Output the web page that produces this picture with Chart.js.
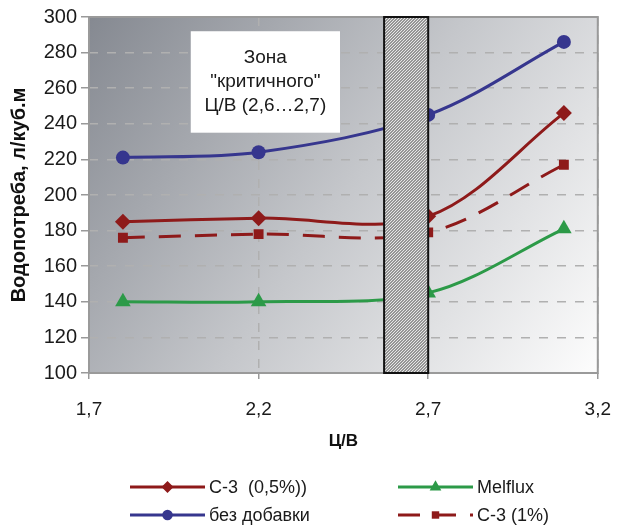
<!DOCTYPE html>
<html lang="ru">
<head>
<meta charset="utf-8">
<title>Водопотреба</title>
<script src="https://cdn.jsdelivr.net/npm/chart.js@4.4.1/dist/chart.umd.min.js"></script>
<style>
  html, body { margin: 0; padding: 0; background: #fff; }
  #wrap { width: 630px; height: 525px; position: relative; }
</style>
</head>
<body>
<div id="wrap"><canvas id="chart"></canvas></div>
<script>
// Ц/В по оси X
const cvRatio = [1.8, 2.2, 2.7, 3.1];

// водопотреба, л/куб.м
const s3Half = [185, 187, 188, 246];
const melflux = [140, 140, 145, 181];
const bezDobavki = [221, 224, 245, 286];
const s3One = [176, 178, 179, 217];

const xTicks = [1.7, 2.2, 2.7, 3.2];
const criticalZone = [2.57, 2.7];
const zoneText = ['Зона', '"критичного"', 'Ц/В (2,6…2,7)'];

const FONT = '"Liberation Sans", Arial, sans-serif';
const fmt = v => String(v.toFixed(1)).replace('.', ',');
const toPoints = ys => cvRatio.map((x, i) => ({ x: x, y: ys[i] }));

// серый градиент под графиком
const plotBackground = {
    id: 'plotBackground',
    beforeDraw(chart) {
        const { ctx, chartArea: a } = chart;
        const g = ctx.createLinearGradient(a.left, a.top, a.right, a.bottom);
        g.addColorStop(0, '#858991');
        g.addColorStop(0.5, '#c5c7cb');
        g.addColorStop(1, '#fdfdfd');
        ctx.save();
        ctx.fillStyle = g;
        ctx.fillRect(a.left, a.top, a.width, a.height);
        ctx.restore();
    }
};

function hatchPattern(ctx) {
    const c = document.createElement('canvas');
    c.width = 3; c.height = 3;
    const p = c.getContext('2d');
    p.fillStyle = '#959595';
    p.fillRect(0, 0, 3, 3);
    p.fillStyle = '#e6e6e6';
    p.fillRect(0, 2, 1, 1); p.fillRect(1, 1, 1, 1); p.fillRect(2, 0, 1, 1);
    return ctx.createPattern(c, 'repeat');
}

// рамка, заштрихованная зона и подпись
const zonePlugin = {
    id: 'zonePlugin',
    afterDatasetsDraw(chart, args, opts) {
        const { ctx, chartArea: a, scales: { x, y } } = chart;
        ctx.save();
        ctx.strokeStyle = '#9a9a9a';
        ctx.lineWidth = 2;
        ctx.strokeRect(a.left, a.top, a.width, a.height);

        const x1 = x.getPixelForValue(criticalZone[0]);
        const x2 = x.getPixelForValue(criticalZone[1]);
        ctx.fillStyle = hatchPattern(ctx);
        ctx.fillRect(x1, a.top, x2 - x1, a.height);
        ctx.strokeStyle = '#111';
        ctx.lineWidth = 2;
        ctx.strokeRect(x1, a.top, x2 - x1, a.height);

        const b = opts.box;
        const bx1 = x.getPixelForValue(b.x[0]), bx2 = x.getPixelForValue(b.x[1]);
        const by1 = y.getPixelForValue(b.y[1]), by2 = y.getPixelForValue(b.y[0]);
        ctx.fillStyle = '#fff';
        ctx.fillRect(bx1, by1, bx2 - bx1, by2 - by1);
        ctx.fillStyle = '#1a1a1a';
        ctx.font = '19px ' + FONT;
        ctx.textAlign = 'center';
        ctx.textBaseline = 'middle';
        const cx = (bx1 + bx2) / 2, cy = (by1 + by2) / 2;
        zoneText.forEach((t, i) => ctx.fillText(t, cx, cy + (i - 1) * 24));
        ctx.restore();
    }
};

// легенда в две колонки: линия с маркером посередине
const lineLegend = {
    id: 'lineLegend',
    afterDraw(chart, args, opts) {
        const ctx = chart.ctx;
        ctx.save();
        ctx.font = '18px ' + FONT;
        ctx.textBaseline = 'middle';
        ctx.textAlign = 'left';
        chart.data.datasets.forEach((ds, i) => {
            const x = opts.cols[i % 2], y = opts.rows[Math.floor(i / 2)];
            const len = opts.lineLength;
            ctx.strokeStyle = ds.borderColor;
            ctx.lineWidth = 3;
            ctx.setLineDash(ds.borderDash || []);
            ctx.beginPath();
            ctx.moveTo(x, y);
            ctx.lineTo(x + len, y);
            ctx.stroke();
            ctx.setLineDash([]);
            ctx.fillStyle = ds.backgroundColor;
            Chart.helpers.drawPoint(ctx, {
                pointStyle: ds.pointStyle,
                radius: ds.pointRadius * 0.75,
                rotation: 0,
                borderWidth: 0
            }, x + len / 2, y);
            ctx.fillStyle = '#1a1a1a';
            ctx.fillText(ds.label, x + len + 4, y + 1);
        });
        ctx.restore();
    }
};

const red = '#8e1a1a';
const blue = '#36368e';
const green = '#2c9a48';

// пунктирная сетка
const gridDash = { display: true, width: 0, color: 'rgba(0,0,0,0)', dash: [9, 9] };

new Chart(document.getElementById('chart'), {
    type: 'line',
    data: {
        datasets: [
            {
                label: 'С-3  (0,5%))',
                data: toPoints(s3Half),
                borderColor: red, backgroundColor: red,
                pointStyle: 'rectRot', pointRadius: 8
            },
            {
                label: 'Melflux',
                data: toPoints(melflux),
                borderColor: green, backgroundColor: green,
                pointStyle: 'triangle', pointRadius: 9
            },
            {
                label: 'без добавки',
                data: toPoints(bezDobavki),
                borderColor: blue, backgroundColor: blue,
                pointStyle: 'circle', pointRadius: 7
            },
            {
                label: 'С-3 (1%)',
                data: toPoints(s3One),
                borderColor: red, backgroundColor: red,
                borderDash: [22, 14],
                pointStyle: 'rect', pointRadius: 7
            }
        ]
    },
    options: {
        responsive: true,
        maintainAspectRatio: false,
        animation: false,
        layout: { padding: { top: 17, right: 17, bottom: 70, left: 0 } },
        elements: {
            line: { borderWidth: 3, tension: 0.33, fill: false },
            point: { borderWidth: 0, hoverRadius: 7 }
        },
        scales: {
            x: {
                type: 'linear',
                min: 1.7,
                max: 3.2,
                afterBuildTicks: s => { s.ticks = xTicks.map(v => ({ value: v })); },
                afterFit: s => { s.height = 82; },
                grid: {
                    color: '#b0b0b0',
                    lineWidth: 1.5,
                    tickLength: 6,
                    tickColor: '#999',
                    tickBorderDash: []
                },
                border: gridDash,
                ticks: {
                    padding: 19,
                    color: '#1a1a1a',
                    font: { family: FONT, size: 19 },
                    callback: v => fmt(v),
                    maxRotation: 0
                },
                title: {
                    display: true,
                    text: 'Ц/В',
                    color: '#111',
                    font: { family: FONT, size: 17, weight: 'bold' },
                    padding: { top: 0, bottom: 3 }
                }
            },
            y: {
                min: 100,
                max: 300,
                afterFit: s => { s.width = 89; },
                grid: {
                    color: '#b0b0b0',
                    lineWidth: 1.5,
                    tickLength: 8,
                    tickColor: '#999',
                    tickBorderDash: []
                },
                border: gridDash,
                ticks: {
                    stepSize: 20,
                    padding: 4,
                    color: '#1a1a1a',
                    font: { family: FONT, size: 20 }
                },
                title: {
                    display: true,
                    text: 'Водопотреба, л/куб.м',
                    color: '#111',
                    font: { family: FONT, size: 20, weight: 'bold' },
                    padding: { top: 7, bottom: 0 }
                }
            }
        },
        plugins: {
            legend: { display: false },
            tooltip: { enabled: false },
            zonePlugin: { box: { x: [2.0, 2.44], y: [235, 292] } },
            lineLegend: { cols: [130, 398], rows: [487, 515], lineLength: 75 }
        }
    },
    plugins: [plotBackground, zonePlugin, lineLegend]
});
</script>
</body>
</html>
